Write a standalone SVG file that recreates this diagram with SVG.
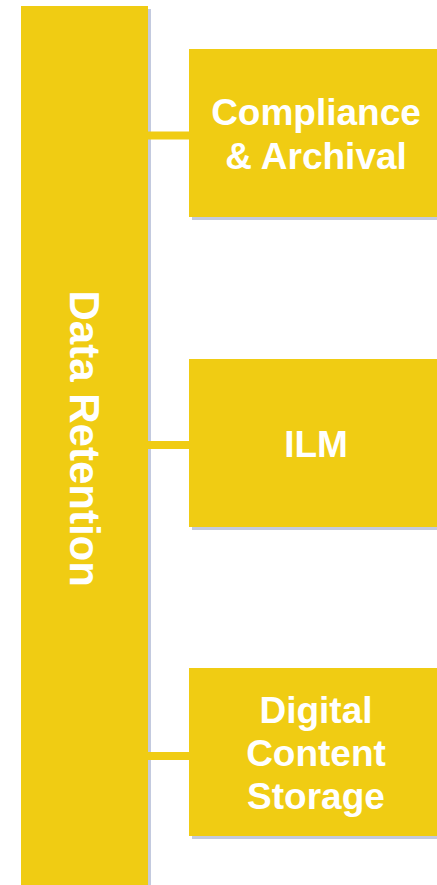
<svg xmlns="http://www.w3.org/2000/svg" width="437" height="885" viewBox="0 0 437 885">
<style>
.fill{fill:#F0CC13}
.shadow{fill:#C3CADF}
.lbl{font-family:"Liberation Sans",Arial,sans-serif;font-weight:bold;font-size:37px;fill:#FFFFFF;text-anchor:middle}
.main{font-family:"Liberation Sans",Arial,sans-serif;font-weight:bold;font-size:42px;fill:#FFFFFF;text-anchor:middle}
</style>
<rect width="437" height="885" fill="#FFFFFF"/>
<g id="data-retention">
<rect class="shadow" x="24" y="9" width="127" height="880"/>
<rect class="fill" x="21" y="6" width="127" height="885"/>
<text class="main" transform="translate(70,438.7) rotate(90)">Data Retention</text>
</g>
<g id="connectors">
<rect class="fill" x="147" y="131.5" width="43" height="8"/>
<rect class="fill" x="147" y="441" width="43" height="8"/>
<rect class="fill" x="147" y="752" width="43" height="8"/>
</g>
<g id="compliance">
<rect class="shadow" x="192" y="52" width="254" height="168"/>
<rect class="fill" x="189" y="49" width="254" height="168"/>
<text class="lbl" x="316" y="125">Compliance</text>
<text class="lbl" x="316" y="169">&amp; Archival</text>
</g>
<g id="ilm">
<rect class="shadow" x="192" y="362" width="254" height="168"/>
<rect class="fill" x="189" y="359" width="254" height="168"/>
<text class="lbl" x="316" y="457">ILM</text>
</g>
<g id="digital-content">
<rect class="shadow" x="192" y="671" width="254" height="168"/>
<rect class="fill" x="189" y="668" width="254" height="168"/>
<text class="lbl" x="316" y="723">Digital</text>
<text class="lbl" x="316" y="766">Content</text>
<text class="lbl" x="316" y="809">Storage</text>
</g>
</svg>
